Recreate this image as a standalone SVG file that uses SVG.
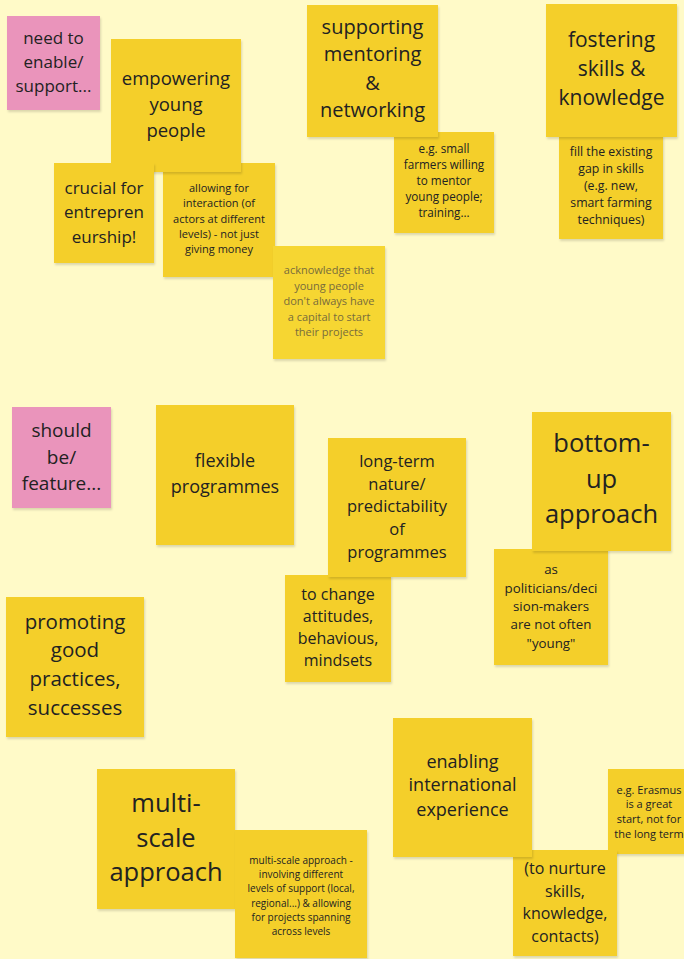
<svg xmlns="http://www.w3.org/2000/svg" width="684" height="959" viewBox="0 0 684 959">
<defs>
<filter id="sh" x="-10%" y="-10%" width="125%" height="125%">
<feDropShadow dx="1" dy="2" stdDeviation="1.2" flood-color="#000" flood-opacity="0.14"/>
</filter>
</defs>
<style>
.y{fill:#f4cf2a;filter:url(#sh)}
.p{fill:#ea94bb;filter:url(#sh)}
.a{fill:#f6d632;filter:url(#sh)}
text{font-family:"Open Sans","Noto Sans",sans-serif;fill:#222;text-anchor:middle}
.g{fill:#786c3c}
</style>
<rect width="684" height="959" fill="#fffac8"/>

<g id="need-to-enable">
<rect class="p" x="7" y="16" width="93" height="94"/>
<text font-size="17"><tspan x="53.5" y="44">need to</tspan><tspan x="53.5" y="68">enable/</tspan><tspan x="53.5" y="92">support...</tspan></text>
</g>

<g id="allowing-interaction">
<rect class="y" x="163" y="163" width="112" height="114"/>
<text font-size="11"><tspan x="219" y="192">allowing for</tspan><tspan x="219" y="207">interaction (of</tspan><tspan x="219" y="223">actors at different</tspan><tspan x="219" y="238">levels) - not just</tspan><tspan x="219" y="253">giving money</tspan></text>
</g>

<g id="empowering">
<rect class="y" x="111" y="39" width="130" height="133"/>
<text font-size="18.5"><tspan x="176" y="84.5">empowering</tspan><tspan x="176" y="110.5">young</tspan><tspan x="176" y="136.5">people</tspan></text>
</g>

<g id="crucial">
<rect class="y" x="54" y="163" width="100" height="100"/>
<text font-size="17"><tspan x="104" y="194">crucial for</tspan><tspan x="104" y="218">entrepren</tspan><tspan x="104" y="243">eurship!</tspan></text>
</g>

<g id="acknowledge">
<rect class="a" x="273" y="246" width="112" height="113"/>
<text font-size="11" class="g"><tspan x="329" y="274">acknowledge that</tspan><tspan x="329" y="290">young people</tspan><tspan x="329" y="305">don't always have</tspan><tspan x="329" y="321">a capital to start</tspan><tspan x="329" y="336">their projects</tspan></text>
</g>

<g id="small-farmers">
<rect class="y" x="394" y="132" width="100" height="101"/>
<text font-size="11.7"><tspan x="444" y="153">e.g. small</tspan><tspan x="444" y="169">farmers willing</tspan><tspan x="444" y="185">to mentor</tspan><tspan x="444" y="201">young people;</tspan><tspan x="444" y="217">training...</tspan></text>
</g>

<g id="mentoring">
<rect class="y" x="307" y="5" width="131" height="132"/>
<text font-size="20"><tspan x="372.5" y="34">supporting</tspan><tspan x="372.5" y="61">mentoring</tspan><tspan x="372.5" y="90">&amp;</tspan><tspan x="372.5" y="117">networking</tspan></text>
</g>

<g id="fill-gap">
<rect class="y" x="559" y="135" width="104" height="104"/>
<text font-size="12.3"><tspan x="611" y="156">fill the existing</tspan><tspan x="611" y="173">gap in skills</tspan><tspan x="611" y="190">(e.g. new,</tspan><tspan x="611" y="207">smart farming</tspan><tspan x="611" y="224">techniques)</tspan></text>
</g>

<g id="fostering">
<rect class="y" x="546" y="4" width="131" height="133"/>
<text font-size="21"><tspan x="611.5" y="47">fostering</tspan><tspan x="611.5" y="76">skills &amp;</tspan><tspan x="611.5" y="105">knowledge</tspan></text>
</g>

<g id="should-be">
<rect class="p" x="12" y="407" width="99" height="101"/>
<text font-size="19"><tspan x="61.5" y="437">should</tspan><tspan x="61.5" y="464">be/</tspan><tspan x="61.5" y="490">feature...</tspan></text>
</g>

<g id="flexible">
<rect class="y" x="156" y="405" width="138" height="140"/>
<text font-size="18"><tspan x="225" y="467">flexible</tspan><tspan x="225" y="493">programmes</tspan></text>
</g>

<g id="change-attitudes">
<rect class="y" x="285" y="575" width="106" height="107"/>
<text font-size="16"><tspan x="338" y="600">to change</tspan><tspan x="338" y="622">attitudes,</tspan><tspan x="338" y="644">behavious,</tspan><tspan x="338" y="666">mindsets</tspan></text>
</g>

<g id="long-term">
<rect class="y" x="328" y="438" width="138" height="139"/>
<text font-size="16.5"><tspan x="397" y="467">long-term</tspan><tspan x="397" y="490">nature/</tspan><tspan x="397" y="512">predictability</tspan><tspan x="397" y="535">of</tspan><tspan x="397" y="558">programmes</tspan></text>
</g>

<g id="politicians">
<rect class="y" x="494" y="549" width="114" height="116"/>
<text font-size="13.3"><tspan x="551" y="574">as</tspan><tspan x="551" y="593">politicians/deci</tspan><tspan x="551" y="611">sion-makers</tspan><tspan x="551" y="629">are not often</tspan><tspan x="551" y="648">"young"</tspan></text>
</g>

<g id="bottom-up">
<rect class="y" x="532" y="412" width="139" height="139"/>
<text font-size="25.5"><tspan x="601.5" y="452">bottom-</tspan><tspan x="601.5" y="488">up</tspan><tspan x="601.5" y="523">approach</tspan></text>
</g>

<g id="promoting">
<rect class="y" x="6" y="597" width="138" height="140"/>
<text font-size="20.5"><tspan x="75" y="629">promoting</tspan><tspan x="75" y="657">good</tspan><tspan x="75" y="686">practices,</tspan><tspan x="75" y="715">successes</tspan></text>
</g>

<g id="multi-scale">
<rect class="y" x="97" y="769" width="138" height="140"/>
<text font-size="25.5"><tspan x="166" y="812">multi-</tspan><tspan x="166" y="847">scale</tspan><tspan x="166" y="881">approach</tspan></text>
</g>

<g id="multi-scale-detail">
<rect class="y" x="235" y="830" width="132" height="128"/>
<text font-size="10"><tspan x="301" y="864">multi-scale approach -</tspan><tspan x="301" y="878">involving different</tspan><tspan x="301" y="892">levels of support (local,</tspan><tspan x="301" y="907">regional...) &amp; allowing</tspan><tspan x="301" y="921">for projects spanning</tspan><tspan x="301" y="935">across levels</tspan></text>
</g>

<g id="erasmus">
<rect class="y" x="608" y="769" width="84" height="85"/>
<text font-size="11"><tspan x="649" y="794">e.g. Erasmus</tspan><tspan x="649" y="808">is a great</tspan><tspan x="649" y="823">start, not for</tspan><tspan x="649" y="838">the long term</tspan></text>
</g>

<g id="nurture">
<rect class="y" x="513" y="850" width="104" height="106"/>
<text font-size="16"><tspan x="565" y="874">(to nurture</tspan><tspan x="565" y="897">skills,</tspan><tspan x="565" y="919">knowledge,</tspan><tspan x="565" y="942">contacts)</tspan></text>
</g>

<g id="international">
<rect class="y" x="393" y="718" width="139" height="139"/>
<text font-size="18"><tspan x="462.5" y="768">enabling</tspan><tspan x="462.5" y="791">international</tspan><tspan x="462.5" y="816">experience</tspan></text>
</g>

<g id="connectors"></g>
</svg>
